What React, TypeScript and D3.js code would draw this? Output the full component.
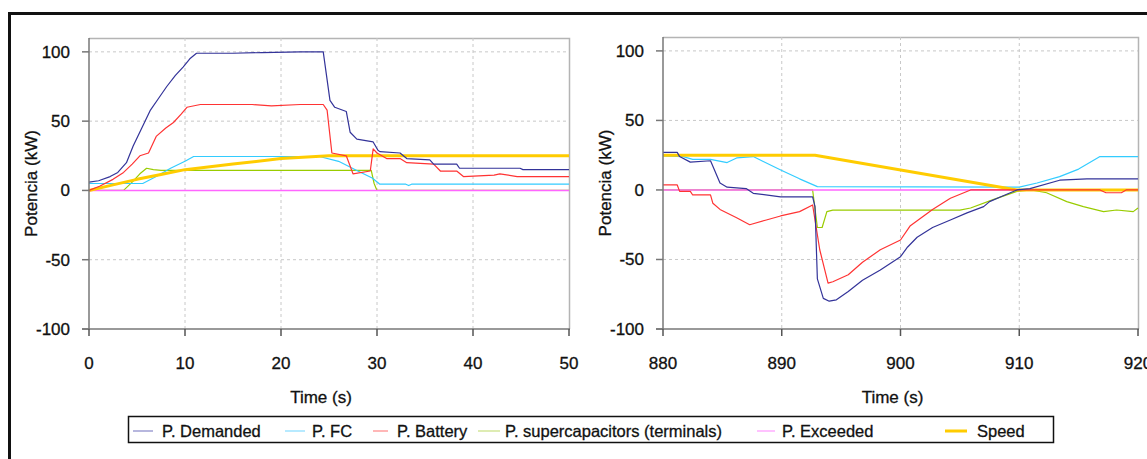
import React, { useEffect, useRef } from "react";
import * as d3 from "d3";

// Series for the left chart (0 - 50 s), [time, kW]
const leftDemanded = [
  [0, 6], [1, 7], [2.2, 10], [3, 13], [3.9, 20], [4.6, 32], [5.5, 45], [6.4, 58], [7.2, 66],
  [8.1, 75], [9, 83], [9.8, 89], [10.5, 95], [11.2, 99], [15, 99], [18, 99.5], [22, 100],
  [24.4, 100], [25.1, 65], [25.6, 60], [26.8, 57], [27.2, 42], [27.9, 37], [29.6, 35],
  [30.1, 29], [30.3, 28], [32.4, 27], [33.1, 23], [35.5, 22], [35.9, 19], [38.3, 19],
  [38.6, 16], [44.9, 16], [45.2, 15], [50, 15]
];
const leftFC = [
  [0, 5], [5.6, 5], [7, 10], [8.5, 16], [10, 21], [10.9, 24.5], [24, 24.5], [26, 21],
  [28, 14], [29.5, 9], [30.3, 4.5], [33, 4.5], [33.3, 3.5], [33.6, 4.5], [50, 4.5]
];
const leftBattery = [
  [0, 0], [1.1, 3], [2.5, 8], [3.6, 13], [4.5, 19], [5.3, 25], [6.2, 27], [7, 39], [8, 45],
  [8.8, 49], [9.6, 55], [10.2, 60], [11.6, 62], [17, 62], [19, 61], [22, 62], [24.4, 62],
  [24.8, 58], [25.3, 27], [26.8, 25], [27.5, 12], [29.3, 14], [29.6, 30], [30, 27], [31, 23],
  [32.4, 23], [33.1, 20], [35.9, 19], [36.6, 14], [38.3, 14], [39, 10], [42.2, 11],
  [42.8, 12], [44.6, 10], [50, 10]
];
const leftSupercap = [
  [0, 0], [3.6, 0], [4.5, 6], [5.3, 12], [6, 16], [6.7, 15], [7.5, 14.5], [29.4, 14.5],
  [29.7, 5], [30, 0], [50, 0]
];
const leftExceeded = [[0, 0], [50, 0]];
const leftSpeed = [
  [0, 0], [2.5, 4], [5, 8], [7.5, 11.5], [10, 15], [15, 19], [20, 23], [25, 25], [50, 25]
];

// Series for the right chart (880 - 920 s), [time, kW]
const rightDemanded = [
  [880, 27], [881.2, 27], [881.4, 24], [882.3, 20], [884, 21], [884.2, 17], [884.8, 5],
  [885.4, 2], [887, 1], [887.6, -2.4], [889.9, -5], [892.6, -5], [892.8, -12], [893, -64],
  [893.5, -78], [894, -80], [894.6, -79], [895.6, -73], [896.8, -65], [898.3, -57.6],
  [900, -48], [900.6, -41], [901.4, -34], [902.7, -27], [904.2, -21.6], [905.6, -16.5],
  [907, -12], [907.5, -8.4], [908.7, -4], [909.8, 0], [910.9, 1], [913.4, 7], [915.7, 8],
  [920, 8]
];
const rightFC = [
  [880, 24.5], [881.7, 24], [882.5, 22], [884, 22], [885.4, 19.7], [886.2, 23], [887.6, 24],
  [890, 14], [891.5, 8], [893, 2.4], [910, 2], [911.5, 5], [913.4, 9.6], [915, 15],
  [916.8, 24], [920, 24]
];
const rightBattery = [
  [880, 3.6], [881.2, 3.6], [881.4, -1], [882.3, -1], [882.5, -3.6], [884, -3.6],
  [884.2, -9.6], [884.8, -14], [886.2, -20], [887.3, -25], [888.7, -21.6], [889.9, -18.7],
  [891.5, -15.6], [892.6, -10.8], [893.2, -43], [893.9, -67], [894.3, -66], [895.6, -61],
  [896.8, -52], [898.3, -43], [900, -36], [900.8, -26], [902.7, -14], [904.2, -6],
  [905.9, 0], [916.8, 0], [917.3, -2], [918.6, -2], [919, 0], [920, 0]
];
const rightSupercap = [
  [880, 0], [892.6, 0], [893, -27], [893.4, -27], [893.8, -15.6], [894.3, -14.5],
  [905, -14.5], [905.9, -13], [907.8, -7], [909.8, -1], [911, 0], [912.3, -2], [914, -8.4],
  [915.4, -12], [917.1, -15.6], [918.2, -14.4], [919.6, -15.6], [920, -13]
];
const rightExceeded = [[880, 0], [910, 0]];
const rightSpeed = [[880, 25], [892.8, 25], [909.8, 0], [920, 0]];

const yTicks = [100, 50, 0, -50, -100];
const yGrid = [100, 50, -50];
const leftXTicks = [0, 10, 20, 30, 40, 50];
const rightXTicks = [880, 890, 900, 910, 920];

const seriesNames = [
  "P. Demanded", "P. FC", "P. Battery", "P. supercapacitors (terminals)", "P. Exceeded", "Speed"
];
const colors = ["#333399", "#33ccff", "#ff3333", "#99cc00", "#ff66ff", "#ffcc00"];
const legendColors = ["#8888c8", "#88ddff", "#ff8888", "#c8e080", "#ff99ff", "#ffcc00"];

const FONT = "'Liberation Sans', Arial, sans-serif";

const App = () => {
  const ref = useRef<SVGSVGElement | null>(null);

  useEffect(() => {
    const svg = d3.select(ref.current);
    svg.selectAll("*").remove();

    // outer frame (clipped by the picture)
    svg.append("path")
      .attr("d", "M9.5,459 L9.5,13.5 L1147,13.5")
      .attr("fill", "none")
      .attr("stroke", "#111")
      .attr("stroke-width", 3);

    const drawPanel = (
      left: number, right: number, top: number, bottom: number,
      xDomain: number[], xTicks: number[], data: number[][][]
    ) => {
      const x = d3.scaleLinear().domain(xDomain).range([left, right]);
      const y = d3.scaleLinear().domain([-100, 110]).range([bottom, top]);
      const g = svg.append("g");

      // plot frame top/right
      g.append("path")
        .attr("d", `M${left},${top + 0.5} L${right + 0.5},${top + 0.5} L${right + 0.5},${bottom}`)
        .attr("fill", "none").attr("stroke", "#b4b4b4").attr("stroke-width", 1.5);

      // grid
      g.selectAll(".hg").data(yGrid).enter().append("line")
        .attr("x1", left).attr("x2", right)
        .attr("y1", (d) => y(d)).attr("y2", (d) => y(d))
        .attr("stroke", "#c8c8c8").attr("stroke-dasharray", "3,3");
      g.selectAll(".vg").data(xTicks.slice(1, -1)).enter().append("line")
        .attr("x1", (d) => x(d)).attr("x2", (d) => x(d))
        .attr("y1", top).attr("y2", bottom)
        .attr("stroke", "#c8c8c8").attr("stroke-dasharray", "3,3");

      // series (drawing order: supercap, exceeded, FC, speed, battery, demanded)
      const line = d3.line<number[]>().x((d) => x(d[0])).y((d) => y(d[1]));
      const order = [3, 4, 1, 5, 2, 0];
      order.forEach((i) => {
        g.append("path")
          .attr("d", line(data[i]) as string)
          .attr("fill", "none")
          .attr("stroke", colors[i])
          .attr("stroke-width", i === 5 ? 3 : i === 4 ? 1.6 : 1.2)
          .attr("stroke-linejoin", "round");
      });

      // axes
      g.append("line").attr("x1", left).attr("x2", left).attr("y1", top).attr("y2", bottom)
        .attr("stroke", "#777").attr("stroke-width", 1.5);
      g.append("line").attr("x1", left - 7).attr("x2", right + 1).attr("y1", bottom).attr("y2", bottom)
        .attr("stroke", "#777").attr("stroke-width", 1.5);

      g.selectAll(".yt").data(yTicks).enter().append("line")
        .attr("x1", left - 7).attr("x2", left)
        .attr("y1", (d) => y(d)).attr("y2", (d) => y(d))
        .attr("stroke", "#777").attr("stroke-width", 1.5);
      g.selectAll(".yl").data(yTicks).enter().append("text")
        .attr("x", left - 19).attr("y", (d) => y(d) + 6)
        .attr("text-anchor", "end")
        .attr("font-family", FONT).attr("font-size", 17).attr("fill", "#111")
        .attr("stroke", "#111").attr("stroke-width", 0.3)
        .text((d) => String(d));

      g.selectAll(".xt").data(xTicks).enter().append("line")
        .attr("x1", (d) => x(d)).attr("x2", (d) => x(d))
        .attr("y1", bottom).attr("y2", bottom + 7)
        .attr("stroke", "#555").attr("stroke-width", 1.5);
      g.selectAll(".xl").data(xTicks).enter().append("text")
        .attr("x", (d) => x(d)).attr("y", bottom + 40)
        .attr("text-anchor", "middle")
        .attr("font-family", FONT).attr("font-size", 17).attr("fill", "#111")
        .attr("stroke", "#111").attr("stroke-width", 0.3)
        .text((d) => String(d));

      g.append("text")
        .attr("x", (left + right) / 2 - 8).attr("y", bottom + 74)
        .attr("text-anchor", "middle")
        .attr("font-family", FONT).attr("font-size", 17).attr("fill", "#111")
        .attr("stroke", "#111").attr("stroke-width", 0.3)
        .text("Time (s)");

      g.append("text")
        .attr("transform", `translate(${left - 52},${y(5)}) rotate(-90)`)
        .attr("text-anchor", "middle")
        .attr("font-family", FONT).attr("font-size", 17).attr("fill", "#111")
        .attr("stroke", "#111").attr("stroke-width", 0.3)
        .text("Potencia (kW)");
    };

    drawPanel(89, 569, 38, 329, [0, 50], leftXTicks,
      [leftDemanded, leftFC, leftBattery, leftSupercap, leftExceeded, leftSpeed]);
    drawPanel(663, 1138, 37, 329, [880, 920], rightXTicks,
      [rightDemanded, rightFC, rightBattery, rightSupercap, rightExceeded, rightSpeed]);

    // legend
    const lg = svg.append("g");
    lg.append("rect")
      .attr("x", 128.5).attr("y", 416.5).attr("width", 925).attr("height", 26)
      .attr("fill", "#fff").attr("stroke", "#111").attr("stroke-width", 1.5);
    const lineStarts = [133, 285, 373, 478, 757, 945];
    const lineEnds = [153, 305, 388, 500, 775, 967];
    const textStarts = [162, 312, 397, 505, 782, 977];
    seriesNames.forEach((name, i) => {
      lg.append("line")
        .attr("x1", lineStarts[i]).attr("x2", lineEnds[i])
        .attr("y1", 431).attr("y2", 431)
        .attr("stroke", legendColors[i]).attr("stroke-width", i === 5 ? 3 : 1.2);
      lg.append("text")
        .attr("x", textStarts[i]).attr("y", 437)
        .attr("font-family", FONT).attr("font-size", 16.5).attr("fill", "#111")
        .attr("stroke", "#111").attr("stroke-width", 0.3)
        .text(name);
    });
  }, []);

  return (
    <svg
      ref={ref}
      width={1147}
      height={459}
      style={{ position: "absolute", left: 0, top: 0, background: "#fff" }}
    />
  );
};

export default App;
